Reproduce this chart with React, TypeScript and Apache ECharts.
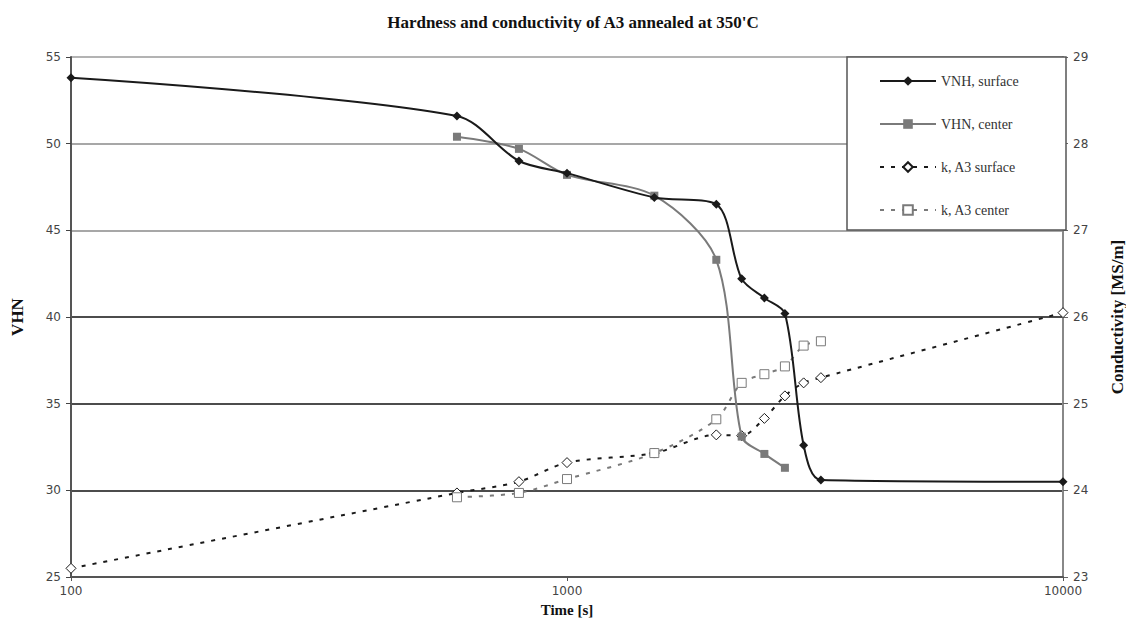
import React, { useEffect, useRef } from "react";
import * as echarts from "echarts";

const titleText = "Hardness and conductivity of A3 annealed at 350'C";
const seriesNames = ["VNH, surface", "VHN, center", "k, A3 surface", "k, A3 center"];

const surfaceTimes = [100, 600, 800, 1000, 1500, 2000, 2250, 2500, 2750, 3000, 3250, 10000];
const vhnSurface = [53.8, 51.6, 49.0, 48.3, 46.9, 46.5, 42.2, 41.1, 40.2, 32.6, 30.6, 30.5];
const kSurface = [23.1, 23.97, 24.1, 24.32, 24.43, 24.64, 24.63, 24.83, 25.09, 25.24, 25.3, 26.05];

const vhnCenterTimes = [600, 800, 1000, 1500, 2000, 2250, 2500, 2750];
const vhnCenter = [50.4, 49.7, 48.2, 47.0, 43.3, 33.1, 32.1, 31.3];

const kCenterTimes = [600, 800, 1000, 1500, 2000, 2250, 2500, 2750, 3000, 3250];
const kCenter = [23.92, 23.97, 24.13, 24.43, 24.82, 25.24, 25.34, 25.43, 25.67, 25.72];

const pair = (xs: number[], ys: number[]) => xs.map((x, i) => [x, ys[i]]);

const serif = "Liberation Serif";
const sans = "DejaVu Sans";

export default function App() {
  const ref = useRef<HTMLDivElement>(null);
  useEffect(() => {
    if (!ref.current) return;
    const chart = echarts.init(ref.current, null, { renderer: "svg" });
    chart.setOption({
      animation: false,
      backgroundColor: "#fff",
      title: {
        text: titleText,
        left: 568,
        textAlign: "center",
        top: 9,
        textStyle: { fontFamily: serif, fontSize: 17, fontWeight: "bold", color: "#111" },
      },
      grid: { left: 71, right: 68, top: 57, bottom: 64, containLabel: false },
      legend: {
        orient: "vertical",
        left: 874,
        top: 69,
        itemWidth: 56,
        itemHeight: 12,
        itemGap: 29,
        z: 6,
        data: seriesNames,
        textStyle: { fontFamily: serif, fontSize: 14, color: "#333" },
      },
      graphic: [
        {
          type: "rect",
          z: 5,
          shape: { x: 847, y: 57, width: 219, height: 173 },
          style: { fill: "#fff", stroke: "#555", lineWidth: 1.5 },
        },
      ],
      xAxis: {
        type: "log",
        logBase: 10,
        min: 100,
        max: 10000,
        name: "Time [s]",
        nameLocation: "middle",
        nameGap: 25,
        nameTextStyle: { fontFamily: serif, fontSize: 15, fontWeight: "bold", color: "#111" },
        axisLine: { lineStyle: { color: "#555", width: 2 } },
        axisTick: { show: true, length: 4, lineStyle: { color: "#555" } },
        axisLabel: {
          fontFamily: sans,
          fontSize: 12,
          color: "#444",
          margin: 8,
          formatter: (v: number) => String(Math.round(v)),
        },
        splitLine: { show: false },
      },
      yAxis: [
        {
          type: "value",
          min: 25,
          max: 55,
          interval: 5,
          name: "VHN",
          nameLocation: "middle",
          nameGap: 45,
          nameTextStyle: { fontFamily: serif, fontSize: 17, fontWeight: "bold", color: "#111" },
          axisLine: { show: true, lineStyle: { color: "#555", width: 2 } },
          axisTick: { show: true, length: 5, lineStyle: { color: "#444" } },
          axisLabel: { fontFamily: sans, fontSize: 12, color: "#444", margin: 10 },
          splitLine: {
            show: true,
            lineStyle: {
              color: ["#555", "#111", "#111", "#111", "#8a8a8a", "#8a8a8a", "#9a9a9a"],
              width: 1.5,
            },
          },
        },
        {
          type: "value",
          min: 23,
          max: 29,
          interval: 1,
          name: "Conductivity [MS/m]",
          nameLocation: "middle",
          nameGap: 46,
          nameRotate: 90,
          nameTextStyle: { fontFamily: serif, fontSize: 17, fontWeight: "bold", color: "#111" },
          axisLine: { show: true, lineStyle: { color: "#888", width: 2 } },
          axisTick: { show: true, length: 5, lineStyle: { color: "#666" } },
          axisLabel: { fontFamily: sans, fontSize: 12, color: "#444", margin: 10 },
          splitLine: { show: false },
        },
      ],
      series: [
        {
          name: seriesNames[0],
          type: "line",
          yAxisIndex: 0,
          smooth: 0.3,
          data: pair(surfaceTimes, vhnSurface),
          symbol: "diamond",
          symbolSize: 9,
          lineStyle: { color: "#1a1a1a", width: 2 },
          itemStyle: { color: "#1a1a1a" },
          z: 4,
        },
        {
          name: seriesNames[1],
          type: "line",
          yAxisIndex: 0,
          smooth: 0.3,
          data: pair(vhnCenterTimes, vhnCenter),
          symbol: "rect",
          symbolSize: 8,
          lineStyle: { color: "#7a7a7a", width: 2 },
          itemStyle: { color: "#7a7a7a" },
          z: 3,
        },
        {
          name: seriesNames[2],
          type: "line",
          yAxisIndex: 1,
          smooth: 0.3,
          data: pair(surfaceTimes, kSurface),
          symbol: "diamond",
          symbolSize: 10,
          showAllSymbol: true,
          lineStyle: { color: "#1a1a1a", width: 2, type: [4, 7] },
          itemStyle: { color: "#fff", borderColor: "#1a1a1a", borderWidth: 1 },
          z: 2,
        },
        {
          name: seriesNames[3],
          type: "line",
          yAxisIndex: 1,
          smooth: 0.3,
          data: pair(kCenterTimes, kCenter),
          symbol: "rect",
          symbolSize: 9,
          lineStyle: { color: "#7a7a7a", width: 2, type: [4, 7] },
          itemStyle: { color: "#fff", borderColor: "#7a7a7a", borderWidth: 1 },
          z: 2,
        },
      ],
    });
    return () => chart.dispose();
  }, []);
  return <div ref={ref} style={{ width: 1134, height: 641, margin: -8 }} />;
}
